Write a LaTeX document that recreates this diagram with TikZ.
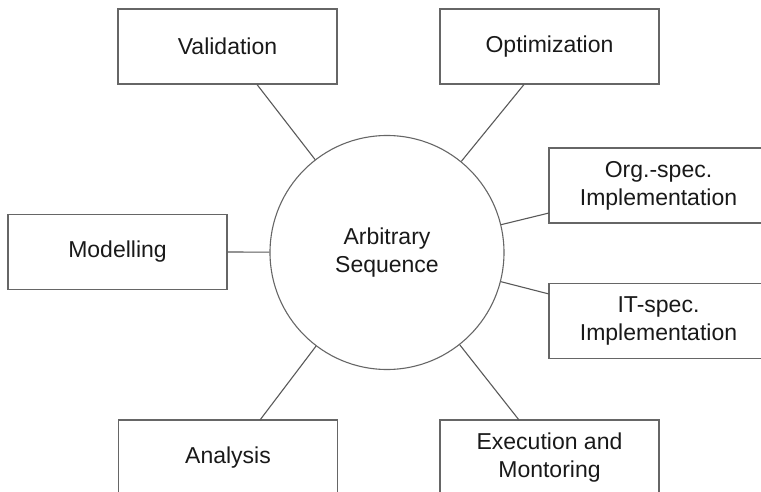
\documentclass[tikz,border=0pt]{standalone}
\usepackage{fontspec}
\setmainfont{Liberation Sans}
\begin{document}
\begin{tikzpicture}[x=1pt,y=-1pt,
  box/.style={draw=black!60, line width=1.1pt, minimum width=219pt, minimum height=75pt, inner sep=0pt, align=center, font=\fontsize{23}{28}\selectfont, text=black!90},
  hub/.style={draw=black!60, line width=1.1pt, circle, minimum size=234pt, inner sep=0pt, align=center, font=\fontsize{23}{28}\selectfont, text=black!90},
  link/.style={draw=black!65, line width=1.1pt}]
\useasboundingbox (0,0) rectangle (761,492);
\clip (0,0) rectangle (761,492);
\node[hub] (c) at (387,252.5) {Arbitrary\\Sequence};
\node[box] (val) at (227.5,46.5) {Validation};
\node[box] (opt) at (549.5,46.5) {Optimization};
\node[box] (mod) at (117.5,252) {Modelling};
\node[box] (org) at (658.5,185.5) {Org.-spec.\\Implementation};
\node[box] (it) at (658.5,321) {IT-spec.\\Implementation};
\node[box] (ana) at (228,457.5) {Analysis};
\node[box] (exe) at (549.5,457.5) {Execution and\\Montoring};
\coordinate (valA) at (257,84.5);
\coordinate (optA) at (524,84.5);
\coordinate (orgA) at (549,213);
\coordinate (itA) at (549,294);
\coordinate (anaA) at (260,420);
\coordinate (exeA) at (519,420);
\draw[link] (mod.east) -- (c);
\draw[link] (valA) -- (c);
\draw[link] (optA) -- (c);
\draw[link] (orgA) -- (c);
\draw[link] (itA) -- (c);
\draw[link] (anaA) -- (c);
\draw[link] (exeA) -- (c);
\end{tikzpicture}
\end{document}
